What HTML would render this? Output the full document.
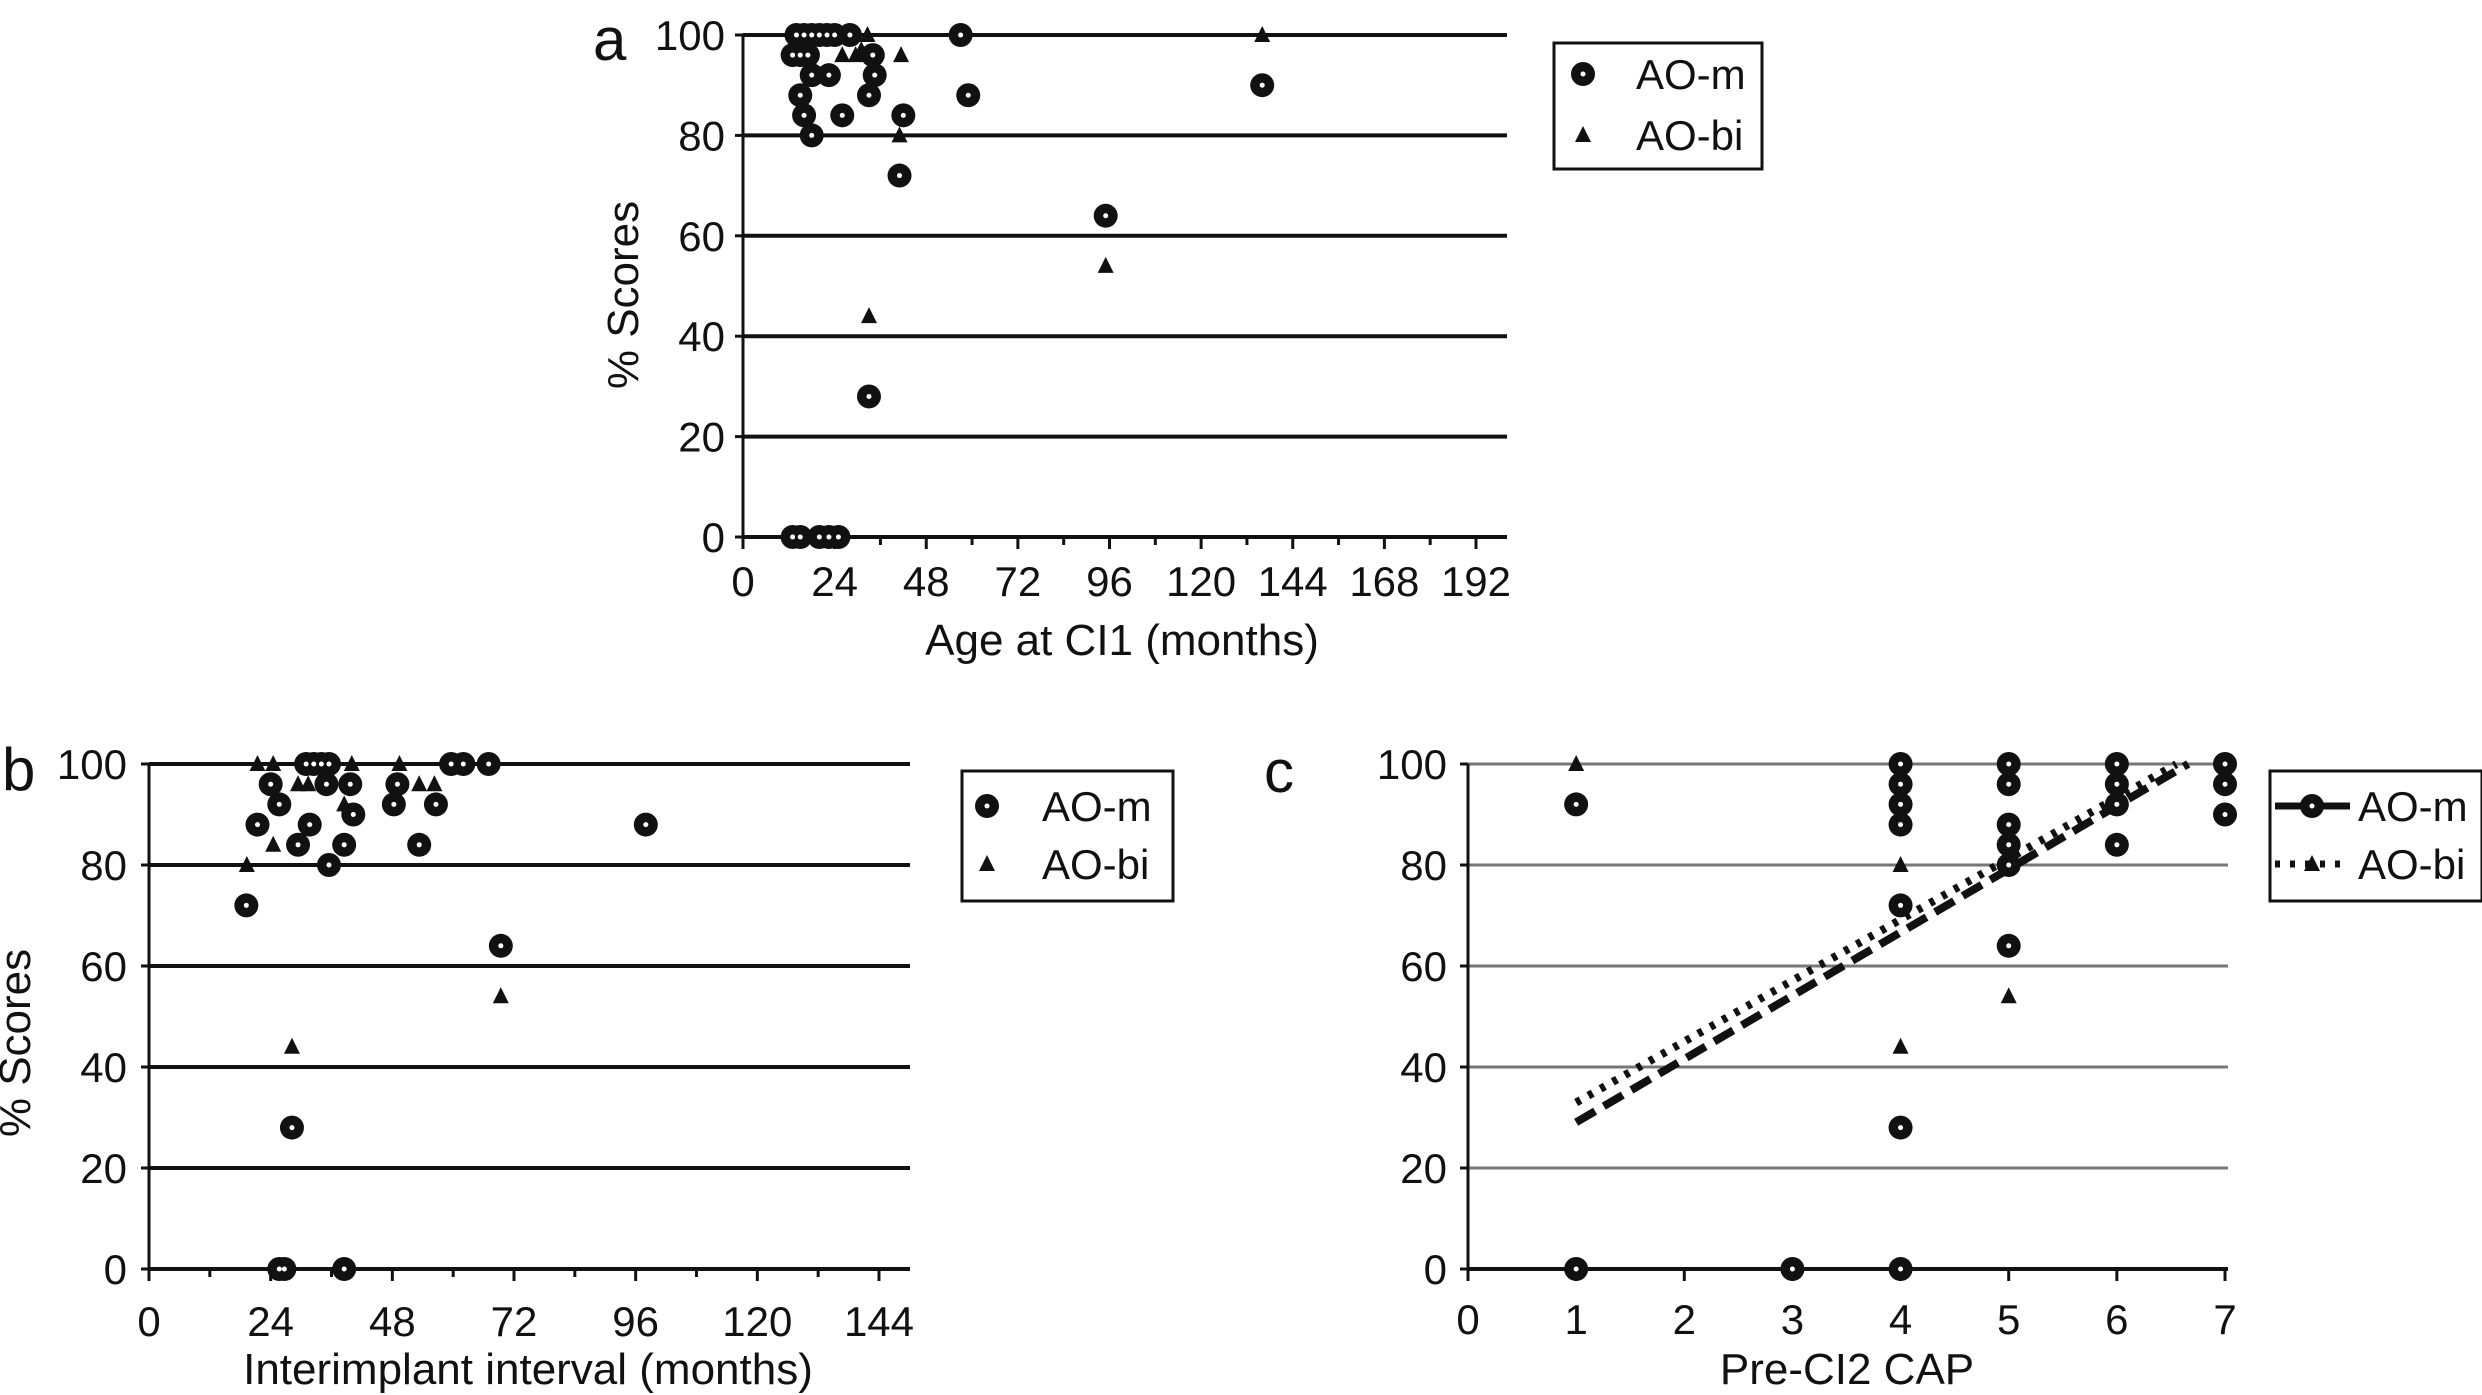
<!DOCTYPE html>
<html><head><meta charset="utf-8"><style>
html,body{margin:0;padding:0;background:#fff;}
svg{display:block;font-family:"Liberation Sans",Arial,sans-serif;}
</style></head><body>
<svg id="fig" width="2482" height="1395" viewBox="0 0 2482 1395" xmlns="http://www.w3.org/2000/svg"></svg>
<script>
// ---- Panel a data (Age at CI1 months, % score)
const aMx=[14,16,18,20,22,24,13,15,17,15,16,18,18,22.5,26,28,33,34,34.5,42,41,33,57,59,95,136,13,15,20,22.5,25];
const aMy=[100,100,100,100,100,100,96,96,96,88,84,80,92,92,84,100,88,96,92,84,72,28,100,88,64,90,0,0,0,0,0];
const aBx=[26,29.5,32.6,41.4,41,33,95,136,15,16,31];
const aBy=[96,96,100,96,80,44,54,100,100,84,97];
const aXTicks=[0,24,48,72,96,120,144,168,192];
// ---- Panel b data (Interimplant interval months, % score)
const bMx=[19.2,21.4,24,25.7,29.4,31.7,31,32.5,34,35.5,35,35.5,38.5,39.7,40.3,48.3,49,53.3,56.6,59.6,62,67,69.4,98,28.2,25.7,26.7,38.5];
const bMy=[72,88,96,92,84,88,100,100,100,100,96,80,84,96,90,92,96,84,92,100,100,100,64,88,28,0,0,0];
const bBx=[19.3,21.4,24.5,24.5,29.4,31.4,40,38.5,49.4,53.3,56.3,28.2,69.4];
const bBy=[80,100,100,84,96,96,100,92,100,96,96,44,54];
const bXTicks=[0,24,48,72,96,120,144];
// ---- Panel c data (Pre-CI2 CAP, % score)
const cMx=[1,1,3,4,4,4,4,4,4,4,5,5,5,5,5,5,6,6,6,6,7,7,7];
const cMy=[92,0,0,0,100,96,92,88,72,28,100,96,88,84,80,64,100,96,92,84,100,96,90];
const cBx=[1,4,4,5,4,6,5];
const cBy=[100,80,44,54,72,96,82];
const cXTicks=[0,1,2,3,4,5,6,7];
const cFitM=[12.54,16.5]; // slope, intercept
const cFitB=[12.07,20.9];
const cFitRange=[1,6.66];
const yTicks=[0,20,40,60,80,100];

const NS="http://www.w3.org/2000/svg";
const svg=document.getElementById('fig');
function el(tag,attrs,parent){const e=document.createElementNS(NS,tag);for(const k in attrs)e.setAttribute(k,attrs[k]);(parent||svg).appendChild(e);return e;}
function txt(s,x,y,size,anchor,parent){const t=el('text',{x:x,y:y,'font-size':size,'text-anchor':anchor||'middle',fill:'#111'},parent);t.textContent=s;return t;}
function tri(cx,cy,g){return el('polygon',{points:(cx-8)+','+(cy+7)+' '+(cx+8)+','+(cy+7)+' '+cx+','+(cy-9),fill:'#111'},g);}

function panel(o){
  const g=el('g',{});
  
  
  const X=v=>o.x0+(v-o.xmin)/(o.xmax-o.xmin)*(o.x1-o.x0);
  const Y=v=>o.y0-(v/100)*(o.y0-o.y1);
  yTicks.forEach(v=>{
    const l=el('line',{x1:o.x0,x2:o.gridEnd,y1:Y(v),y2:Y(v),stroke:v===0?'#111':o.gridColor,'stroke-width':v===0?4:o.gridW},g);
    
    
    el('line',{x1:o.x0-8,x2:o.x0,y1:Y(v),y2:Y(v),stroke:'#111','stroke-width':3},g);
    const t=txt(String(v),o.yLabX,Y(v)+15,42,'end',g);
    
    
  });
  const ax=el('line',{x1:o.x0,x2:o.x0,y1:Y(0)+10,y2:Y(100),stroke:'#111','stroke-width':3},g);
  
  
  o.xticks.forEach((v,i)=>{
    el('line',{x1:X(v),x2:X(v),y1:Y(0),y2:Y(0)+12,stroke:'#111','stroke-width':3},g);
    if(o.minor && i<o.xticks.length-1){const m=(v+o.xticks[i+1])/2;el('line',{x1:X(m),x2:X(m),y1:Y(0),y2:Y(0)+8,stroke:'#111','stroke-width':3},g);}
    const t=txt(String(v),X(v),o.xLabY,42,'middle',g);
    
    
  });
  const xt=txt(o.xtitle,o.xtX,o.xtY,44,'middle',g);
  
  
  if(o.ytitle){
    const yt=txt('% Scores',0,0,44,'middle',g);
    yt.setAttribute('transform','translate('+o.ytX+','+o.ytY+') rotate(-90)');
    
    
  }
  const lt=txt(o.letter,o.letX,o.letY,60,'start',g);
  
  
  if(o.fits){
    o.fits.forEach(f=>{
      const l=el('line',{x1:X(cFitRange[0]),y1:Y(f.p[0]*cFitRange[0]+f.p[1]),x2:X(f.end),y2:Y(f.p[0]*f.end+f.p[1]),stroke:'#111','stroke-width':8,'stroke-dasharray':f.dash},g);
      
      
    });
  }
  o.bx.forEach((v,i)=>{
    const p=tri(X(v),Y(o.by[i]),g);
    
    
  });
  o.mx.forEach((v,i)=>{
    const c=el('circle',{cx:X(v),cy:Y(o.my[i]),r:12,fill:'#111'},g);
    
    
  });
  o.mx.forEach((v,i)=>{el('circle',{cx:X(v),cy:Y(o.my[i]),r:2.5,fill:'#fff'},g);});
  const L=o.leg;
  const lg=el('g',{},g);
  
  
  el('rect',{x:L.x,y:L.y,width:L.w,height:L.h,fill:'#fff',stroke:'#111','stroke-width':3},lg);
  if(o.fits){
    el('line',{x1:L.mx-25,x2:L.mx+50,y1:L.r1,y2:L.r1,stroke:'#111','stroke-width':7},lg);
    el('line',{x1:L.mx-25,x2:L.mx+50,y1:L.r2,y2:L.r2,stroke:'#111','stroke-width':7,'stroke-dasharray':'5 10'},lg);
  }
  const mc=L.mx+(o.fits?12:0);
  el('circle',{cx:mc,cy:L.r1,r:12,fill:'#111'},lg);el('circle',{cx:mc,cy:L.r1,r:2.5,fill:'#fff'},lg);
  tri(mc,L.r2,lg);
  const e1=txt('AO-m',L.tx,L.r1+15,42,'start',lg);
  
  
  const e2=txt('AO-bi',L.tx,L.r2+15,42,'start',lg);
  
  
}

panel({name:'panel-a',letter:'a',letX:593,letY:60,x0:743,x1:1476,xmin:0,xmax:192,y0:537,y1:35,gridEnd:1507,gridColor:'#111',gridW:4,
  yLabX:725,xticks:aXTicks,minor:true,xLabY:596,xtitle:'Age at CI1 (months)',xtX:1122,xtY:655,ytitle:true,ytX:638,ytY:295,
  mx:aMx,my:aMy,bx:aBx,by:aBy,leg:{x:1554,y:43,w:208,h:126,mx:1583,tx:1636,r1:74,r2:135}});
panel({name:'panel-b',letter:'b',letX:2,letY:790,x0:149,x1:879,xmin:0,xmax:144,y0:1269,y1:764,gridEnd:910,gridColor:'#111',gridW:4,
  yLabX:127,xticks:bXTicks,minor:true,xLabY:1336,xtitle:'Interimplant interval (months)',xtX:528,xtY:1384,ytitle:true,ytX:30,ytY:1043,
  mx:bMx,my:bMy,bx:bBx,by:bBy,leg:{x:962,y:771,w:211,h:130,mx:987,tx:1042,r1:806,r2:864}});
panel({name:'panel-c',letter:'c',letX:1264,letY:792,x0:1468,x1:2225,xmin:0,xmax:7,y0:1269,y1:764,gridEnd:2228,gridColor:'#777',gridW:3,
  yLabX:1447,xticks:cXTicks,minor:false,xLabY:1334,xtitle:'Pre-CI2 CAP',xtX:1847,xtY:1384,ytitle:false,
  mx:cMx,my:cMy,bx:cBx,by:cBy,
  fits:[{p:cFitM,end:cFitRange[1],dash:'22 10',name:'ao-m-trendline'},{p:cFitB,end:6.55,dash:'5 9',name:'ao-bi-trendline'}],
  leg:{x:2270,y:771,w:212,h:130,mx:2300,tx:2358,r1:806,r2:864}});
</script>
</body></html>
